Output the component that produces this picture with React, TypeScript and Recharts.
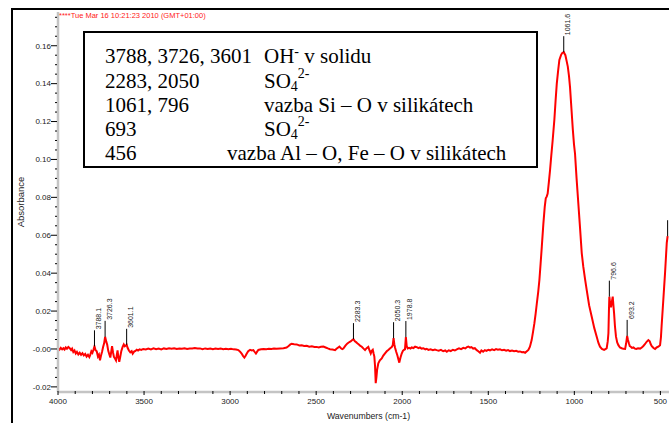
import { Line, LineChart, ReferenceDot, XAxis, YAxis } from 'recharts'

type Pair = [number, number]

// IR absorbance spectrum, [wavenumber cm-1, absorbance], high to low wavenumber
const hydroxylBand: Pair[] = [
  [4000, 0.0003], [3992, -0.0004], [3984, 0.0006], [3976, -0.0002], [3969, 0.0004],
  [3962, -0.0003], [3955, 0.0008], [3948, 0.0001], [3940, 0.0011], [3932, 0.0004],
  [3924, -0.0006], [3918, 0.0002], [3911, -0.0016], [3904, -0.0008], [3897, -0.0024],
  [3890, -0.0015], [3882, -0.0029], [3874, -0.002], [3866, -0.0031], [3858, -0.0022],
  [3850, -0.0034], [3842, -0.0026], [3834, -0.004], [3826, -0.0031], [3818, -0.0043],
  [3812, -0.003], [3806, -0.0012], [3800, -0.002], [3794, -0.0004], [3788.1, 0.0014],
  [3782, -0.0006], [3775, -0.0012], [3768, -0.004], [3762, -0.003], [3756, -0.006],
  [3750, -0.0035], [3744, -0.0015], [3738, 0.001], [3732, 0.003], [3726.3, 0.0064],
  [3720, 0.004], [3714, 0.0022], [3708, -0.001], [3702, -0.0028], [3696, -0.0045],
  [3690, -0.001], [3686, 0.0015], [3680, -0.002], [3675, -0.0042], [3669, -0.005],
  [3663, -0.006], [3658, -0.003], [3654, -0.0008], [3649, -0.0045], [3644, -0.0068],
  [3638, -0.004], [3632, -0.001], [3625, 0.001], [3618, 0.0024], [3612, 0.0014],
  [3606, 0.0018], [3601.1, 0.0022], [3595, 0.0005], [3588, -0.0008], [3580, -0.0018],
  [3572, -0.0012], [3566, -0.0025], [3558, -0.0014], [3550, -0.001], [3543, -0.0004],
  [3535, -0.0008], [3526, -0.0002], [3516, -0.0005], [3505, 0],
]

const plateau: Pair[] = [
  [3490, -0.0003], [3475, 0.0002], [3460, -0.0002], [3445, 0.0003], [3430, -0.0001],
  [3415, 0.0002], [3400, -0.0002], [3385, 0.0003], [3370, 0], [3355, 0.0004],
  [3340, 0.0001], [3325, 0.0004], [3310, 0], [3295, 0.0003], [3280, 0.0001],
  [3265, 0.0004], [3250, 0], [3235, 0.0003], [3220, 0.0002], [3205, 0.0005],
  [3190, 0.0002], [3175, 0.0003], [3160, -0.0001], [3145, 0.0003], [3130, 0],
  [3115, 0.0002], [3100, -0.0001], [3085, 0.0002], [3070, 0], [3055, 0.0002],
  [3040, -0.0001], [3025, 0.0001], [3010, -0.0001], [2995, 0.0001], [2980, -0.0002],
  [2965, -0.0003], [2952, -0.0006], [2942, -0.0014], [2933, -0.0024], [2925, -0.0036],
  [2917, -0.0045], [2910, -0.0036], [2904, -0.0025], [2895, -0.0012], [2884, -0.0005],
  [2874, -0.0008], [2865, -0.0006], [2857, -0.0016], [2850, -0.0024], [2843, -0.0014],
  [2836, -0.0005], [2820, -0.0002], [2805, 0], [2790, -0.0001], [2775, 0.0001],
  [2760, 0], [2745, 0.0002], [2730, 0.0001], [2710, 0.0003], [2690, 0.0004],
  [2672, 0.0008], [2660, 0.0016], [2650, 0.0024], [2642, 0.0027], [2628, 0.0025],
  [2613, 0.0024], [2598, 0.0019], [2584, 0.002], [2570, 0.0016], [2555, 0.0017],
  [2540, 0.0012], [2525, 0.0014], [2510, 0.001], [2497, 0.0011], [2485, 0.0008],
  [2472, 0.0012], [2458, 0.0013], [2445, 0.0008], [2432, 0.0003], [2420, -0.0001],
  [2405, -0.0003],
]

const sulfateBand: Pair[] = [
  [2390, -0.0006], [2380, 0.0002], [2372, 0.0008], [2365, 0.0013], [2356, 0.0004],
  [2348, -0.0001], [2342, 0.0002], [2330, 0.0018], [2320, 0.0028], [2313, 0.0033],
  [2300, 0.004], [2292, 0.0046], [2283.3, 0.0052], [2275, 0.004], [2268, 0.0036],
  [2261, 0.003], [2252, 0.0024], [2243, 0.0016], [2235, 0.0012], [2226, 0.0003],
  [2216, -0.0006], [2207, 0.0004], [2197, 0.0011], [2190, -0.0008], [2183, -0.0024],
  [2177, -0.001], [2171, -0.0004], [2166, -0.0025], [2162, -0.004], [2158, -0.009],
  [2154, -0.018], [2150, -0.015], [2146, -0.011], [2139, -0.0076], [2130, -0.006],
  [2119, -0.005], [2110, -0.0035], [2100, -0.0023], [2090, -0.0012], [2081, -0.0005],
  [2070, 0.0004], [2061, 0.001], [2055, 0.002], [2050.3, 0.0057], [2046, 0.0025],
  [2042, 0.0008], [2035, -0.0015], [2028, -0.0034], [2022, -0.0055], [2017, -0.0072],
  [2010, -0.0045], [2003, -0.0024], [1996, -0.001], [1990, -0.0005], [1984, -0.0002],
  [1978.8, 0.0063], [1974, 0.0015], [1968, 0.0003], [1960, 0.0006], [1952, 0.0002],
  [1945, 0.0008], [1935, 0.0005], [1925, 0.0012], [1916, 0.001], [1905, 0.0004],
  [1897, 0.0008], [1888, 0.0002], [1877, 0.0004], [1866, -0.0002], [1858, 0.0001],
  [1848, -0.0005],
]

const baseline: Pair[] = [
  [1835, -0.0002], [1822, -0.0006], [1810, -0.0003], [1800, -0.0006], [1788, -0.0009],
  [1775, -0.0005], [1762, -0.0012], [1750, -0.0008], [1741, -0.0015], [1730, -0.0007],
  [1718, -0.0011], [1706, -0.0004], [1694, -0.0008], [1683, -0.0002], [1670, 0.0003],
  [1658, -0.0001], [1645, 0.0006], [1633, 0.0003], [1624, 0.001], [1616, 0.0013],
  [1606, 0.0007], [1598, 0.001], [1588, 0.0002], [1578, 0.0004], [1567, -0.0006],
  [1558, -0.0012], [1548, -0.002], [1540, -0.0008], [1530, -0.0014], [1520, -0.0006],
  [1510, -0.001], [1500, -0.0004], [1490, -0.0007], [1478, -0.0002], [1466, -0.0006],
  [1455, -0.0001], [1444, -0.0004], [1432, -0.0002], [1420, -0.0007], [1408, -0.0004],
  [1396, -0.0009], [1385, -0.0006], [1374, -0.0011], [1362, -0.0008], [1350, -0.0012],
  [1338, -0.001], [1326, -0.0014], [1316, -0.0013], [1305, -0.0017], [1295, -0.0016],
  [1286, -0.002], [1276, -0.0012], [1267, -0.0005],
]

const silicateBand: Pair[] = [
  [1258, 0.0012], [1248, 0.0047], [1240, 0.009], [1232, 0.0136], [1225, 0.0185],
  [1218, 0.024], [1210, 0.03], [1203, 0.0364], [1196, 0.045], [1189, 0.054],
  [1180, 0.066], [1172, 0.075], [1166, 0.0795], [1160, 0.0805], [1155, 0.082],
  [1148, 0.088], [1141, 0.0945], [1134, 0.102], [1126, 0.11], [1116, 0.121],
  [1109, 0.131], [1102, 0.14], [1094, 0.147], [1087, 0.1525], [1077, 0.1552],
  [1070, 0.1562], [1061.6, 0.1566], [1052, 0.155], [1045, 0.152], [1038, 0.149],
  [1031, 0.144], [1025, 0.138], [1017, 0.127], [1009, 0.116], [1002, 0.108],
  [996, 0.103], [987, 0.09], [977, 0.077], [967, 0.064], [957, 0.0506],
  [948, 0.0434], [938, 0.037], [928, 0.031], [914, 0.023], [899, 0.017],
  [884, 0.011], [870, 0.0065], [860, 0.0032], [851, 0.0012], [840, 0],
  [827, -0.0005], [817, 0], [812, 0.0004], [806, 0.004], [802, 0.0083],
  [799, 0.02], [796.6, 0.0276], [792, 0.024], [787, 0.022], [782, 0.025],
  [777, 0.0276], [773, 0.023], [769, 0.0188], [764, 0.012], [758, 0.0065],
  [751, 0.0035], [744, 0.002], [735, 0.0008], [725, 0.0004], [715, 0.0001],
  [705, 0], [699, 0.003], [693.2, 0.0069], [689, 0.005], [683, 0.003],
  [678, 0.0015], [672, 0.0012], [665, 0.0006], [657, 0.0008], [648, 0.0002],
  [640, 0], [630, 0.0004], [618, 0.0002], [608, 0.0008], [599, 0.0016],
  [590, 0.0025], [580, 0.0038], [570, 0.0047], [562, 0.004], [556, 0.0025],
  [550, 0.0015], [540, 0.0005], [531, 0], [522, 0.0008], [512, 0.0012],
  [502, 0.002], [497, 0.006], [493, 0.012], [488, 0.019], [483, 0.026],
  [478, 0.033], [473, 0.04], [468, 0.048], [463, 0.056], [458, 0.0595],
]

const labelledPeaks = [3788.1, 3726.3, 3601.1, 2283.3, 2050.3, 1978.8, 1061.6, 796.6, 693.2]
const edgePeak = 458

const xMajorTicks = [4000, 3500, 3000, 2500, 2000, 1500, 1000, 500]
const xMinorTicks = [
  3900, 3800, 3700, 3600, 3400, 3300, 3200, 3100, 2900, 2800, 2700, 2600, 2400, 2300,
  2200, 2100, 1900, 1800, 1700, 1600, 1400, 1300, 1200, 1100, 900, 800, 700, 600,
]
const yMajorTicks = [-0.02, 0, 0.02, 0.04, 0.06, 0.08, 0.1, 0.12, 0.14, 0.16]
const yTickLabels = ['-0.02', '-0.00', '0.02', '0.04', '0.06', '0.08', '0.10', '0.12', '0.14', '0.16']
const yMinorTicks = [
  -0.015, -0.01, -0.005, 0.005, 0.01, 0.015, 0.025, 0.03, 0.035, 0.045, 0.05, 0.055,
  0.065, 0.07, 0.075, 0.085, 0.09, 0.095, 0.105, 0.11, 0.115, 0.125, 0.13, 0.135,
  0.145, 0.15, 0.155, 0.165, 0.17, 0.175,
]

// band assignment table: [text, 'sub' | 'sup' | undefined]
type Part = [string, ('sub' | 'sup')?]
const assignmentPeaks = ['3788, 3726, 3601', '2283, 2050', '1061, 796', '693', '456']
const assignmentTexts: Part[][] = [
  [['OH'], ['-', 'sup'], [' v solidu']],
  [['SO'], ['4', 'sub'], ['2-', 'sup']],
  [['vazba Si – O v silikátech']],
  [['SO'], ['4', 'sub'], ['2-', 'sup']],
  [['vazba Al – O, Fe – O v silikátech']],
]
const assignmentIndent = [264, 264, 264, 264, 227]

const spectrum = [...hydroxylBand, ...plateau, ...sulfateBand, ...baseline, ...silicateBand].map(
  ([w, a]) => ({ w, a }),
)
const absorbanceAt = (w: number) => spectrum.find((p) => p.w === w)?.a ?? 0

const SANS = '"Liberation Sans", Arial, sans-serif'
const SERIF = '"Liberation Serif", "Times New Roman", serif'
const WIDTH = 669
const HEIGHT = 423
const Y_TICK_SIZE = 6
const Y_TICK_MARGIN = 1
const X_TICK_SIZE = 4
const X_TICK_MARGIN = 2.5
const MARKER_LEN = 16

const near = (a: number, b: number) => Math.abs(a - b) < 1e-9

function YTick({ x, y, payload }: any) {
  const idx = yMajorTicks.findIndex((t) => near(t, payload.value))
  const axisX = x + Y_TICK_SIZE + Y_TICK_MARGIN
  return (
    <g>
      <line x1={axisX - (idx >= 0 ? 7 : 3)} x2={axisX - 1} y1={y} y2={y} stroke="#000" strokeWidth={1} />
      {idx >= 0 && (
        <text x={x} y={y} dy="0.355em" textAnchor="end" fontSize={8} fontFamily={SANS} fill="#222">
          {yTickLabels[idx]}
        </text>
      )}
    </g>
  )
}

function XTick({ x, y, payload }: any) {
  const major = xMajorTicks.includes(payload.value)
  const axisY = y - X_TICK_SIZE - X_TICK_MARGIN
  return (
    <g>
      <line x1={x} x2={x} y1={axisY - 1} y2={axisY + (major ? 3 : 2)} stroke="#000" strokeWidth={1} />
      {major && (
        <text x={x} y={y} dy="0.71em" textAnchor="middle" fontSize={8} fontFamily={SANS} fill="#222">
          {payload.value}
        </text>
      )}
    </g>
  )
}

function PeakMarker({ cx, cy, label }: { cx: number; cy: number; label?: string }) {
  return (
    <g>
      <line x1={cx} x2={cx} y1={cy} y2={cy - MARKER_LEN} stroke="#000" strokeWidth={1} />
      {label && (
        <text
          transform={`translate(${cx + 6.5}, ${cy - MARKER_LEN - 1}) rotate(-90)`}
          fontSize={7}
          fontFamily={SANS}
          fill="#222"
        >
          {label}
        </text>
      )}
    </g>
  )
}

const yTitle = ({ viewBox }: any) => {
  const cx = viewBox.x + 12
  const cy = viewBox.y + viewBox.height / 2
  return (
    <text
      x={cx}
      y={cy}
      transform={`rotate(-90 ${cx} ${cy})`}
      textAnchor="middle"
      dominantBaseline="central"
      fontSize={9.5}
      fontFamily={SANS}
      fill="#222"
    >
      Absorbance
    </text>
  )
}

const xTitle = ({ viewBox }: any) => (
  <text
    x={viewBox.x + viewBox.width / 2 + 5}
    y={viewBox.y + 24}
    textAnchor="middle"
    dominantBaseline="central"
    fontSize={8.7}
    fontFamily={SANS}
    fill="#222"
  >
    Wavenumbers (cm-1)
  </text>
)

function AssignmentText({ parts, x, y }: { parts: Part[]; x: number; y: number }) {
  let shift = 0
  return (
    <text x={x} y={y} fontSize={21} fontFamily={SERIF} fill="#000">
      {parts.map(([text, kind], i) => {
        const next = kind === 'sub' ? 3.5 : kind === 'sup' ? (parts[i - 1]?.[1] === 'sub' ? -10 : -7.5) : 0
        const dy = next - shift
        shift = next
        return (
          <tspan key={i} dy={dy} fontSize={kind ? 14 : 21}>
            {text}
          </tspan>
        )
      })}
    </text>
  )
}

export default function App() {
  return (
    <div style={{ position: 'fixed', left: 0, top: 0, width: WIDTH, height: HEIGHT, fontFamily: SANS, background: '#fff' }}>
      <LineChart width={WIDTH} height={HEIGHT} data={spectrum} margin={{ top: 12, right: 0, bottom: 0, left: 8 }}>
        <XAxis
          type="number"
          dataKey="w"
          domain={[450, 4000]}
          reversed
          allowDataOverflow
          ticks={[...xMajorTicks, ...xMinorTicks].sort((a, b) => b - a)}
          interval={0}
          height={31}
          tickSize={X_TICK_SIZE}
          tickMargin={X_TICK_MARGIN}
          tickLine={false}
          tick={<XTick />}
          axisLine={{ stroke: '#c4c4c4', strokeWidth: 2.5 }}
          label={xTitle}
        />
        <YAxis
          type="number"
          domain={[-0.0227, 0.1778]}
          allowDataOverflow
          ticks={[...yMajorTicks, ...yMinorTicks].sort((a, b) => a - b)}
          interval={0}
          width={50}
          tickSize={Y_TICK_SIZE}
          tickMargin={Y_TICK_MARGIN}
          tickLine={false}
          tick={<YTick />}
          axisLine={{ stroke: '#c4c4c4', strokeWidth: 2.5 }}
          label={yTitle}
        />
        <Line
          type="linear"
          dataKey="a"
          stroke="#ff0000"
          strokeWidth={2}
          dot={false}
          isAnimationActive={false}
        />
        {labelledPeaks.map((w) => (
          <ReferenceDot
            key={w}
            x={w}
            y={absorbanceAt(w)}
            r={0}
            shape={(p: any) => <PeakMarker cx={p.cx} cy={p.cy} label={w.toFixed(1)} />}
          />
        ))}
        <ReferenceDot
          x={edgePeak}
          y={absorbanceAt(edgePeak)}
          r={0}
          shape={(p: any) => <PeakMarker cx={p.cx} cy={p.cy} />}
        />
      </LineChart>
      <svg
        width={WIDTH}
        height={HEIGHT}
        style={{ position: 'absolute', left: 0, top: 0, pointerEvents: 'none' }}
      >
        <line x1={12} x2={WIDTH} y1={9} y2={9} stroke="#000" strokeWidth={2} />
        <line x1={12} x2={12} y1={8} y2={HEIGHT} stroke="#000" strokeWidth={2} />
        <text x={59} y={18} fontSize={7.5} fontFamily={SANS} fill="#ff2020">
          ****Tue Mar 16 10:21:23 2010 (GMT+01:00)
        </text>
        <rect x={84} y={32} width={453} height={135} fill="#fff" stroke="#000" strokeWidth={2} />
        {assignmentPeaks.map((peaks, i) => (
          <g key={peaks}>
            <text x={105} y={63.3 + i * 24.2} fontSize={21} fontFamily={SERIF} fill="#000">
              {peaks}
            </text>
            <AssignmentText parts={assignmentTexts[i]} x={assignmentIndent[i]} y={63.3 + i * 24.2} />
          </g>
        ))}
      </svg>
    </div>
  )
}
